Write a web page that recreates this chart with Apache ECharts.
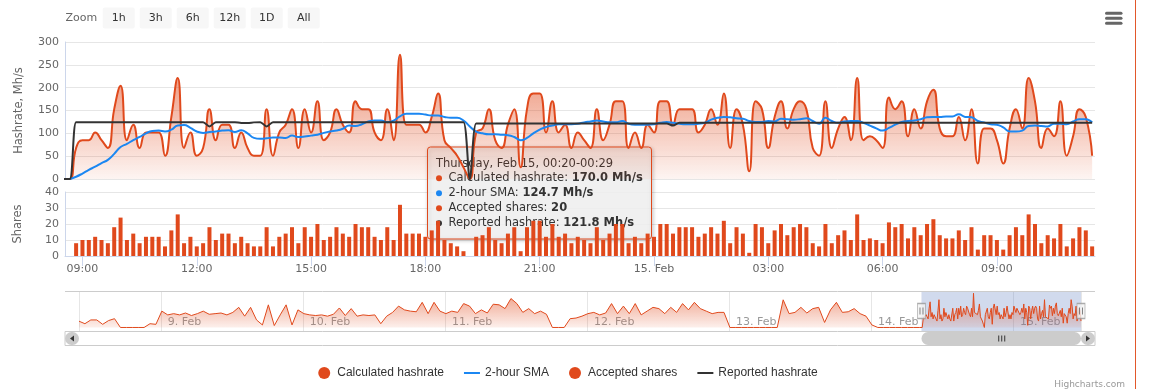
<!DOCTYPE html>
<html><head><meta charset="utf-8">
<script src="https://cdn.jsdelivr.net/npm/echarts@6/dist/echarts.min.js"></script>
<style>html,body{margin:0;padding:0;background:#fff;}#c{width:1136px;height:389px;}</style>
</head><body><div id="c"></div>
<script>
// ---------- DATA (minutes counted from Feb 14 00:00) ----------
const startMinute = 510;      // Feb 14 08:30
const stepMinutes = 10;
const acceptedShares = [null,null,
8,10,10,12,10,8,18,24,10,14,
8,12,12,12,6,16,26,8,12,6,
8,18,10,14,14,8,12,8,6,6,
18,6,12,14,18,8,18,12,20,10,
12,18,14,12,20,18,18,12,10,18,
10,32,14,14,14,12,16,22,10,8,
6,3,0,12,13,18,10,8,14,18,
3,18,22,22,12,20,12,14,8,12,
10,8,18,10,14,20,20,8,12,8,
14,12,20,20,14,18,18,18,12,14,
18,14,22,8,18,14,2,20,18,8,
16,20,13,18,20,18,8,6,20,8,
13,16,10,26,10,11,10,8,21,18,
20,11,18,13,20,23,13,11,11,16,
10,18,4,13,13,10,4,13,18,13,
26,20,8,13,11,20,6,11,18,16,
6];
const calculatedHashrate = [0,0,
68,85,85,102,85,68,153,204,85,119,
68,102,102,102,51,136,221,68,102,51,
68,153,85,119,119,68,102,68,51,51,
153,51,102,119,153,68,153,102,170,85,
102,153,119,102,170,153,153,102,85,153,
85,272,119,119,119,102,136,187,85,68,
51,25.5,0,102,110.5,153,85,68,119,153,
25.5,153,187,187,102,170,102,119,68,102,
85,68,153,85,119,170,170,68,102,68,
119,102,170,170,119,153,153,153,102,119,
153,119,187,68,153,119,17,170,153,68,
136,170,110.5,153,170,153,68,51,170,68,
110.5,136,85,221,85,93.5,85,68,178.5,153,
170,93.5,153,110.5,170,195.5,110.5,93.5,93.5,136,
85,153,34,110.5,110.5,85,34,110.5,153,110.5,
221,170,68,110.5,93.5,170,51,93.5,153,136,
51];
const smaHashrate = [null,
0,5,12,20,27,35,42,55,70,77,
85,92,100,105,106,104,108,117,118,112,
104,101,103,104,106,107,103,107,100,90,
88,89,91,91,90,95,92,93,95,97,
101,104,106,110,117,116,120,126,128,128,
124,128,137,143,143,143,141,139,139,136,
134,134,128,115,104,100,98,98,97,96,
92,85,90,100,108,114,117,120,120,120,
121,124,126,128,126,124,124,127,121,119,
119,119,120,123,124.7,123,121,120,120,121,
123,130,134,136,135,133,132,127,125,125,
127,126,132,131,130,131,133,127,121,134,
127,123,126,127,127,123,117,111,106,112,
119,125,127,128,131,135,136,136,137,137,
142,136,135,127,124,120,119,113,104,104,
106,116,117,116,115,121,121,120,126,131,
131,124];
const reportedHashrate = [0,0,
124.5,124.5,124.5,124.5,124.5,124.5,124.5,124.5,124.5,124.5,
124.5,124.5,124.5,124.5,124.5,124.5,124.5,124.5,124.5,124.5,124.5,
115,124.5,124.5,124.5,124.5,122.5,122.5,124,124.5,115,
124.5,124.5,124.5,124.5,124.5,124.5,124.5,124.5,124.5,124.5,
124.5,124.5,124.5,124.5,124.5,124.5,124.5,124.5,124.5,124.5,
124.5,124.5,124.5,124.5,124.5,124.5,124.5,124.5,124.5,124.5,124.5,
0,
121.5,121.5,121.5,121.5,121.5,121.5,121.5,121.5,121.5,121.5,
121.5,121.5,121.5,121.5,121.5,121.5,121.5,121.5,121.5,121.5,
121.5,121.5,121.5,121.5,121.5,121.5,121.5,121.5,121.5,121.5,
121.8,117,
123,123,123,123,123,123,123,123,123,123,
123,123,123,123,123,123,123,123,123,123,
123,123,123,123,123,123,123,123,123,123,
123,123,123,123,123,123,123,123,123,123,
123,123,123,123,123,123,123,123,123,123,
123,123,123,123,123,123,123,123,123,123,
123,123,123,123,123,123];
// navigator: hourly history before the zoomed range (from Feb 8 10:10)
const navStartMinute = -8030;
const navStepMinutes = 60;
const navHashrate = [50,30,60,60,25,55,70,0,0,0,
0,0,30,25,130,100,110,100,115,95,
110,130,105,110,115,100,120,160,90,160,
60,20,180,15,100,180,20,140,110,100,
95,100,90,105,155,95,150,90,100,95,
100,30,90,120,170,140,130,125,200,110,
200,130,110,130,120,190,170,110,140,115,
185,180,150,230,190,120,150,110,130,105,
0,0,0,70,75,90,110,120,100,115,
190,110,170,110,190,100,130,160,150,110,
160,120,190,140,200,150,130,110,120,120,
0,0,0,0,0,0,0,0,0,220,
110,120,160,115,150,160,40,140,200,120,
125,150,110,90,20,0,0,0,0,0,
0,0,0];
const viewMin = 512.5, viewMax = 2134.5;
const timeTicks = [540,720,900,1080,1260,1440,1620,1800,1980];
const zoomButtons = ['1h','3h','6h','12h','1D','All'];
const seriesNames = ['Calculated hashrate','2-hour SMA','Accepted shares','Reported hashrate'];
const tooltipMinute = 1460;
const weekdayNames = ['Sunday','Monday','Tuesday','Wednesday','Thursday','Friday','Saturday'];

// ---------- CHART ----------
const orange = '#e0491c', blue = '#1b87f2', dark = '#333333';
const baseTs = new Date(2018, 1, 14, 0, 0, 0).getTime();
const navTs = m => baseTs + m * 60000;
const tAt = j => startMinute + j * stepMinutes;
const lastMinute = tAt(calculatedHashrate.length - 1);
const pad = n => (n < 10 ? '0' : '') + n;
function fmtMain(v) {
  const d = Math.floor(v / 1440), m = v - d * 1440;
  if (m === 0) return (14 + d) + '. Feb';
  return pad(Math.floor(m / 60)) + ':' + pad(m % 60);
}
const pairs = arr => arr.map((v, j) => [tAt(j), v]);
const navData = navHashrate.map((v, n) => [navTs(navStartMinute + n * navStepMinutes), v])
  .concat(calculatedHashrate.map((v, j) => [navTs(tAt(j)), v]));
const areaGrad = (a0, a1) => new echarts.graphic.LinearGradient(0, 0, 0, 1, [
  {offset: 0, color: 'rgba(224,73,28,' + a0 + ')'}, {offset: 1, color: 'rgba(224,73,28,' + a1 + ')'}]);
const navYMin = -28, navYMax = 290, navMid = (navYMin + navYMax) / 2;

const chart = echarts.init(document.getElementById('c'));
const option = {
  animation: false,
  textStyle: {fontFamily: 'DejaVu Sans'},
  grid: [
    {left: 65, top: 42, width: 1030, height: 137},
    {left: 65, top: 192, width: 1030, height: 64},
    {left: 79, top: 291, width: 1002, height: 40}
  ],
  xAxis: [
    {type: 'value', gridIndex: 0, min: viewMin, max: viewMax, axisLine: {show: false}, axisTick: {show: false}, axisLabel: {show: false}, splitLine: {show: false}},
    {type: 'value', gridIndex: 1, min: viewMin, max: viewMax,
      axisLine: {show: true, lineStyle: {color: '#ccd6eb'}},
      axisTick: {show: true, length: 10, lineStyle: {color: '#ccd6eb'}, customValues: timeTicks},
      axisLabel: {customValues: timeTicks, formatter: fmtMain, color: '#666', fontSize: 11, margin: 8},
      splitLine: {show: false}},
    {type: 'time', gridIndex: 2, min: navTs(navStartMinute), max: navTs(lastMinute),
      minInterval: 86400000, maxInterval: 86400000,
      axisLine: {show: false}, axisTick: {show: false},
      splitLine: {show: true, lineStyle: {color: '#e6e6e6'}},
      axisLabel: {inside: true, align: 'left', padding: [0, 0, 0, 7], margin: 3, color: '#999', fontSize: 11,
        formatter: v => new Date(v).getDate() + '. Feb'}}
  ],
  yAxis: [
    {type: 'value', gridIndex: 0, min: 0, max: 300, interval: 50, name: 'Hashrate, Mh/s', nameLocation: 'middle', nameGap: 40,
      nameTextStyle: {color: '#666', fontSize: 11.5},
      axisLine: {show: true, lineStyle: {color: '#ccd6eb'}}, axisTick: {show: false},
      axisLabel: {color: '#666', fontSize: 11, margin: 6}, splitLine: {lineStyle: {color: '#e6e6e6'}}},
    {type: 'value', gridIndex: 1, min: 0, max: 40, interval: 10, name: 'Shares', nameLocation: 'middle', nameGap: 41,
      nameTextStyle: {color: '#666', fontSize: 11.5},
      axisLine: {show: true, lineStyle: {color: '#ccd6eb'}}, axisTick: {show: false},
      axisLabel: {color: '#666', fontSize: 11, margin: 6}, splitLine: {lineStyle: {color: '#e6e6e6'}}},
    {type: 'value', gridIndex: 2, min: navYMin, max: navYMax, show: false}
  ],
  legend: {
    left: 'center', top: 362, itemWidth: 16, itemHeight: 12, itemGap: 20, symbolKeepAspect: true,
    textStyle: {fontFamily: 'Liberation Sans', fontSize: 12, color: '#333'},
    data: [
      {name: seriesNames[0], icon: 'circle'},
      {name: seriesNames[1], icon: 'path://M0,0H16V2H0Z'},
      {name: seriesNames[2], icon: 'circle'},
      {name: seriesNames[3], icon: 'path://M0,0H16V2H0Z'}
    ]
  },
  series: [
    {name: seriesNames[0], type: 'line', xAxisIndex: 0, yAxisIndex: 0, data: pairs(calculatedHashrate), smooth: true,
      showSymbol: false, silent: true, color: orange, lineStyle: {width: 2, color: orange}, areaStyle: {color: areaGrad(0.92, 0.08)}},
    {name: seriesNames[1], type: 'line', xAxisIndex: 0, yAxisIndex: 0, data: pairs(smaHashrate), smooth: true,
      showSymbol: false, silent: true, color: blue, lineStyle: {width: 2, color: blue}},
    {name: seriesNames[2], type: 'bar', xAxisIndex: 1, yAxisIndex: 1, data: pairs(acceptedShares), barWidth: 4,
      silent: true, color: orange, itemStyle: {color: orange}},
    {name: seriesNames[3], type: 'line', xAxisIndex: 0, yAxisIndex: 0, data: pairs(reportedHashrate), smooth: 0.3,
      showSymbol: false, silent: true, color: dark, lineStyle: {width: 2, color: dark}},
    {name: 'nav', type: 'line', xAxisIndex: 2, yAxisIndex: 2, data: navData, showSymbol: false, silent: true, z: 1,
      color: orange, lineStyle: {width: 1, color: orange}, areaStyle: {color: areaGrad(0.75, 0.12)}},
    {name: 'navHandles', type: 'scatter', xAxisIndex: 2, yAxisIndex: 2, silent: true, z: 6,
      data: [[navTs(viewMin), navMid], [navTs(Math.min(viewMax, lastMinute)), navMid]],
      symbol: 'rect', symbolSize: [8, 15], itemStyle: {color: '#f2f2f2', borderColor: '#999', borderWidth: 1},
      markArea: {silent: true, itemStyle: {color: 'rgba(102,133,194,0.3)'},
        data: [[{xAxis: navTs(viewMin)}, {xAxis: navTs(Math.min(viewMax, lastMinute))}]]}},
    {name: 'navGrips', type: 'scatter', xAxisIndex: 2, yAxisIndex: 2, silent: true, z: 7,
      data: [[navTs(viewMin), navMid], [navTs(Math.min(viewMax, lastMinute)), navMid]],
      symbol: 'path://M0,0H1V7H0ZM3,0H4V7H3Z', symbolSize: [4, 7], itemStyle: {color: '#666'}}
  ]
};
chart.setOption(option);

// ---------- decorations (range selector, scrollbar, tooltip) ----------
const px = m => chart.convertToPixel({xAxisIndex: 2}, navTs(m));
const selStart = px(viewMin), selEnd = px(Math.min(viewMax, lastMinute));
const g = [];
g.push({type: 'text', z: 50, style: {text: 'Zoom', x: 65.5, y: 18, fill: '#666', fontSize: 11, fontFamily: 'DejaVu Sans', textVerticalAlign: 'middle'}});
zoomButtons.forEach((b, i) => {
  const x = 102.7 + i * 37;
  g.push({type: 'rect', z: 50, shape: {x: x, y: 7.5, width: 32, height: 21, r: 2}, style: {fill: '#f7f7f7'}});
  g.push({type: 'text', z: 51, style: {text: b, x: x + 16, y: 18, fill: '#333', fontSize: 11, fontFamily: 'DejaVu Sans', textAlign: 'center', textVerticalAlign: 'middle'}});
});
[13.3, 18.3, 23.3].forEach(y => g.push({type: 'line', z: 50, shape: {x1: 1106.5, y1: y, x2: 1121, y2: y}, style: {stroke: '#666', lineWidth: 3, lineCap: 'round'}}));
g.push({type: 'line', z: 50, shape: {x1: 1135.5, y1: 0, x2: 1135.5, y2: 389}, style: {stroke: '#e2572a', lineWidth: 1}});
g.push({type: 'text', z: 50, style: {text: 'Highcharts.com', x: 1125, y: 385, fill: '#999', fontSize: 9, fontFamily: 'DejaVu Sans', textAlign: 'right', textVerticalAlign: 'middle'}});
// navigator outline & scrollbar
g.push({type: 'line', z: 20, shape: {x1: 65, y1: 291.5, x2: 1095, y2: 291.5}, style: {stroke: '#cccccc', lineWidth: 1}});
g.push({type: 'rect', z: 20, shape: {x: 65, y: 331.5, width: 1030, height: 14}, style: {fill: '#ffffff', stroke: '#cccccc', lineWidth: 1}});
g.push({type: 'rect', z: 21, shape: {x: selStart, y: 332, width: selEnd - selStart, height: 13, r: 6.5}, style: {fill: '#cccccc'}});
[-3, 0, 3].forEach(d => g.push({type: 'line', z: 22, shape: {x1: (selStart + selEnd) / 2 + d + 0.5, y1: 335.5, x2: (selStart + selEnd) / 2 + d + 0.5, y2: 341.5}, style: {stroke: '#333', lineWidth: 1}}));
g.push({type: 'rect', z: 21, shape: {x: 65, y: 332, width: 14, height: 13, r: 6.5}, style: {fill: '#cccccc'}});
g.push({type: 'polygon', z: 22, shape: {points: [[70, 338.5], [74, 335.5], [74, 341.5]]}, style: {fill: '#333'}});
g.push({type: 'rect', z: 21, shape: {x: 1081, y: 332, width: 14, height: 13, r: 6.5}, style: {fill: '#cccccc'}});
g.push({type: 'polygon', z: 22, shape: {points: [[1090, 338.5], [1086, 335.5], [1086, 341.5]]}, style: {fill: '#333'}});
// tooltip (content read from the data arrays)
const tj = (tooltipMinute - startMinute) / stepMinutes;
const tDay = 14 + Math.floor(tooltipMinute / 1440);
const tMin = tooltipMinute % 1440;
const header = weekdayNames[new Date(2018, 1, tDay).getDay()] + ', Feb ' + tDay + ', ' +
  pad(Math.floor(tMin / 60)) + ':' + pad(tMin % 60) + '-' + pad(Math.floor(tMin / 60)) + ':' + pad(tMin % 60 + stepMinutes - 1);
const rows = [
  [orange, seriesNames[0] + ': ', calculatedHashrate[tj].toFixed(1) + ' Mh/s'],
  [blue, seriesNames[1] + ': ', smaHashrate[tj].toFixed(1) + ' Mh/s'],
  [orange, seriesNames[2] + ': ', String(acceptedShares[tj])],
  [dark, seriesNames[3] + ': ', reportedHashrate[tj].toFixed(1) + ' Mh/s']
];
const tipChildren = [
  {type: 'rect', shape: {x: 0, y: 0, width: 224, height: 92, r: 3},
    style: {fill: 'rgba(247,247,247,0.85)', stroke: orange, lineWidth: 1, shadowBlur: 4, shadowOffsetX: 1, shadowOffsetY: 1, shadowColor: 'rgba(0,0,0,0.25)'}},
  {type: 'text', style: {text: header, x: 8.5, y: 16.7, fill: '#333', fontSize: 11.5, fontFamily: 'DejaVu Sans', textVerticalAlign: 'middle'}}
];
rows.forEach((r, i) => {
  const y = 30.7 + i * 15;
  tipChildren.push({type: 'circle', shape: {cx: 11.5, cy: y + 0.5, r: 3}, style: {fill: r[0]}});
  tipChildren.push({type: 'text', style: {text: r[1] + '{b|' + r[2] + '}', x: 21, y: y, fill: '#333', fontSize: 11.5, fontFamily: 'DejaVu Sans', textVerticalAlign: 'middle',
    rich: {b: {fontWeight: 'bold', fontSize: 11.5, fontFamily: 'DejaVu Sans', fill: '#333'}}}});
});
g.push({type: 'group', x: 427.5, y: 147, z: 100, children: tipChildren});
chart.setOption({graphic: g});
</script></body></html>
